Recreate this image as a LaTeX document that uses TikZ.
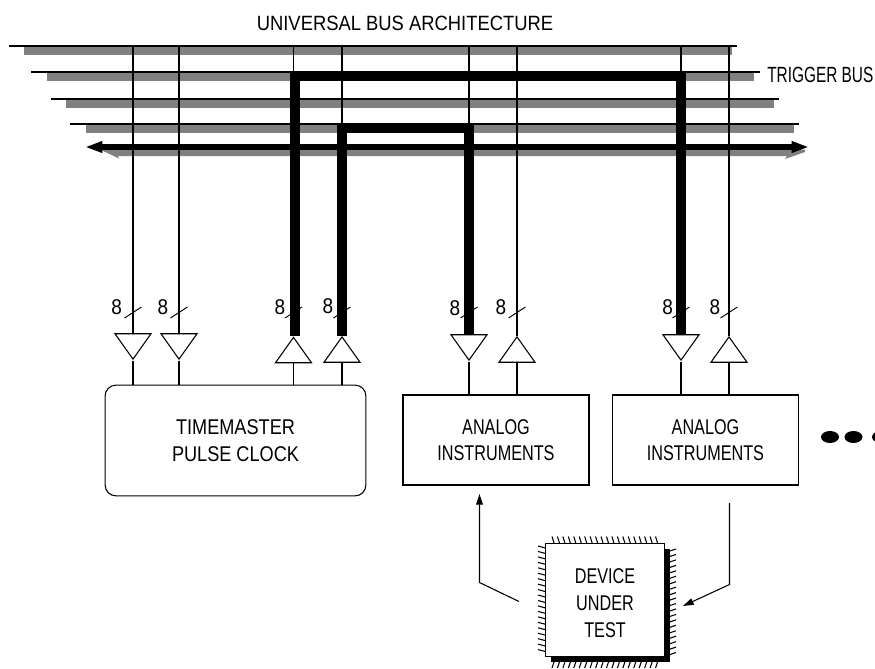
\documentclass[tikz,border=0pt]{standalone}
\usepackage{fontspec}
\setmainfont{Liberation Sans}
\newfontfamily\titlefont[FakeStretch=0.89]{Liberation Sans}
\newfontfamily\clockfont[FakeStretch=0.85]{Liberation Sans}
\newfontfamily\boxfont[FakeStretch=0.76]{Liberation Sans}
\newfontfamily\trigfont[FakeStretch=0.70]{Liberation Sans}
\usepackage{tikz}
\usetikzlibrary{arrows.meta, positioning, shapes.geometric, calc}
\tikzset{
  buswire/.style={line width=1.5pt, black},
  busshade/.style={line width=6.4pt, black!50},
  thinwire/.style={line width=0.8pt, black},
  fatwire/.style={line width=7.5pt, black, line join=miter},
  drvdown/.style={draw, line width=0.8pt, fill=white, isosceles triangle,
    isosceles triangle stretches, shape border rotate=-90, minimum width=27pt,
    minimum height=19pt, inner sep=0pt, anchor=apex},
  drvup/.style={drvdown, shape border rotate=90},
  instbox/.style={draw, line width=0.8pt, fill=white, minimum width=139.5pt,
    minimum height=67.5pt, align=center, inner sep=0pt},
  widthlabel/.style={font=\titlefont\fontsize{16}{16}\selectfont, inner sep=0pt},
  boxtext/.style={font=\boxfont\fontsize{16}{20}\selectfont, align=center},
  signal/.style={line width=0.8pt, -{Triangle[length=8pt, width=5pt]}},
  pin/.style={line width=0.8pt},
}
\begin{document}
\begin{tikzpicture}[x=0.75pt, y=-0.75pt]
    \useasboundingbox (0,0) rectangle (875,668);

    % shaded bars, then the bus lines
    \foreach \xa/\xb/\yb in {24/732/46, 47/754/72, 66/774/99, 86/794/124} {
      \draw[busshade] (\xa,\yb+5) -- (\xb,\yb+5);
    }
    \foreach \xa/\xb/\yb/\busname in {9/737/46/busa, 31/760/72/busb, 51/779/99/busc, 70/799/124/busd} {
      \coordinate (\busname w) at (\xa,\yb);
      \coordinate (\busname e) at (\xb,\yb);
      \draw[buswire] (\busname w) -- (\busname e);
    }

    % lower bus with arrows both ways
    \fill[black!50] (100,149.5) -- (805,149.5) -- (805,152) -- (785,159) -- (787,156)
      -- (118,156) -- (119,158.5) -- cycle;
    \coordinate (buse) at (85,147);
    \coordinate (busf) at (809,147);
    \draw[line width=3.8pt, {Triangle[length=13pt, width=8pt]}-{Triangle[length=13pt, width=8pt]}] (buse) -- (busf);

    % boxes
    \node[draw, line width=0.8pt, rounded corners=8pt, minimum width=195.5pt, minimum height=83pt,
      boxtext, font=\clockfont\fontsize{16}{20}\selectfont] (timemaster) at (235.5,440.5) {TIMEMASTER\\PULSE CLOCK};
    \node[instbox, boxtext] (analoga) at (496,440) {ANALOG\\INSTRUMENTS};
    \node[instbox, boxtext] (analogb) at (705.5,440) {ANALOG\\INSTRUMENTS};

    % line drivers
    \node[drvdown] (da) at (133,360.5) {};
    \node[drvdown] (db) at (179,360.5) {};
    \node[drvup]   (dc) at (293.5,336) {};
    \node[drvup]   (dd) at (342,335.5) {};
    \node[drvdown] (de) at (469,361.5) {};
    \node[drvup]   (df) at (517,335.5) {};
    \node[drvdown] (dg) at (681,361.5) {};
    \node[drvup]   (dh) at (729,335.5) {};

    % wires from the drivers to the boxes
    \foreach \drv/\tgt/\tip in {da/timemaster/apex, db/timemaster/apex, dc/timemaster/lower side,
      dd/timemaster/lower side, de/analoga/apex, df/analoga/lower side, dg/analogb/apex, dh/analogb/lower side} {
      \draw[thinwire] (\drv.\tip) -- (\drv.\tip |- \tgt.north);
    }

    % wires up to the top bus
    \draw[thinwire] (da.lower side) -- (da.lower side |- busaw);
    \draw[thinwire] (db.lower side) -- (db.lower side |- busaw);
    \draw[thinwire] (df.apex) -- (df.apex |- busaw);
    \draw[thinwire] (dh.apex) -- (dh.apex |- busaw);
    \draw[thinwire] (dc.apex |- busaw) -- (dc.apex |- busbw);
    \draw[thinwire] (dd.apex |- busaw) -- (dd.apex |- busdw);
    \draw[thinwire] (de.lower side |- busaw) -- (de.lower side |- busdw);
    \draw[thinwire] (dg.lower side |- busaw) -- (dg.lower side |- busbw);

    % fat trigger wires
    \coordinate (triga) at (294.5,76);
    \coordinate (trigb) at (342,128);
    \draw[fatwire] (dc.apex -| triga) -- (triga) -- (triga -| dg.lower side) -- (dg.lower side);
    \draw[fatwire] (dd.apex) -- (trigb) -- (trigb -| de.lower side) -- (de.lower side);

    % width marks
    \foreach \drv/\tip/\lx/\ly in {da/lower side/116.7/306.7, db/lower side/163/306.7, dc/apex/280/306.7,
      dd/apex/328/305.7, de/lower side/455/308, df/apex/501/306.7, dg/lower side/667.7/306.7, dh/apex/715/307} {
      \node[widthlabel] (w\drv) at (\lx,\ly) {8};
      \draw[line width=0.7pt] ($(\drv.\tip |- 0,312.5)+(-8.5,5.5)$) -- ($(\drv.\tip |- 0,312.5)+(8.5,-5.5)$);
    }

    % titles
    \node[font=\titlefont\fontsize{15.5}{15.5}\selectfont, inner sep=0pt] (title) at (405,23) {UNIVERSAL BUS ARCHITECTURE};
    \node[font=\trigfont\fontsize{16.5}{16.5}\selectfont, inner sep=0pt, anchor=west] (trigname) at (767,75) {TRIGGER BUS};

    % more of the same
    \foreach \cx/\dotname in {830/dota, 853.5/dotb, 881/dotc} {
      \node[fill, ellipse, minimum width=13.5pt, minimum height=9pt, inner sep=0pt] (\dotname) at (\cx,437) {};
    }

    % device under test
    \fill (551,549) rectangle (670,662);
    \foreach \i in {0,...,19} {
      \draw[pin] ({552+5.45*\i},536.5) -- ({554+5.45*\i},543);
      \draw[pin] ({552+5.45*\i},668) -- ({554+5.45*\i},662);
      \draw[pin] (538,{546+5.45*\i}) -- (545.5,{548+5.45*\i});
      \draw[pin] (670,{551+5.45*\i}) -- (676,{549+5.45*\i});
    }
    \node[draw, line width=0.8pt, fill=white, minimum width=89pt, minimum height=85pt, boxtext,
      inner sep=0pt] (dut) at (605,600) {\rule{0pt}{16pt}DEVICE\\UNDER\\TEST};

    % signal paths
    \coordinate (outa) at (519,601.5);
    \coordinate (benda) at (479.5,582.5);
    \coordinate (inb) at (729.5,503);
    \coordinate (bendb) at (729.5,584.5);
    \coordinate (tipb) at (683,606);
    \draw[signal] (outa) -- (benda) -- (benda |- 0,494);
    \draw[signal] (inb) -- (bendb) -- (tipb);
\end{tikzpicture}
\end{document}
